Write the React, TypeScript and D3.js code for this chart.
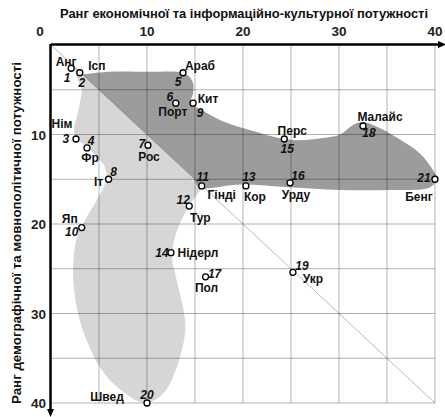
import React from 'react'
import * as d3 from 'd3'

// languages: number, short name, two ranks
const nums = [1, 2, 3, 4, 5, 6, 7, 8, 9, 10, 11, 12, 13, 14, 15, 16, 17, 18, 19, 20, 21]
const names = ['Анг', 'Ісп', 'Нім', 'Фр', 'Араб', 'Порт', 'Рос', 'Іт', 'Кит', 'Яп', 'Гінді',
  'Тур', 'Кор', 'Нідерл', 'Перс', 'Урду', 'Пол', 'Малайс', 'Укр', 'Швед', 'Бенг']
const econRank = [2.1, 3.0, 2.6, 3.75, 13.75, 13.0, 10.1, 6.0, 14.8, 3.2, 15.7,
  14.4, 20.3, 12.5, 24.3, 24.9, 16.1, 32.5, 25.2, 10.0, 40.0]
const demoRank = [2.6, 3.1, 10.5, 11.5, 3.1, 6.5, 11.2, 15.0, 6.5, 20.4, 15.75,
  18.0, 15.75, 23.2, 10.5, 15.4, 25.9, 9.05, 25.4, 40.0, 15.0]

const xTicks = [0, 10, 20, 30, 40]
const yTicks = [10, 20, 30, 40]
const gridSteps = [5, 10, 15, 20, 25, 30, 35, 40]

// outlines of the two shaded groups, in rank units
const darkZone: [number, number][] = [
  [3.3, 3.3], [6.1, 3.0], [10.3, 3.0], [13.1, 3.0], [14.2, 3.35], [14.8, 4.25], [14.8, 5.4],
  [14.6, 6.4], [16.25, 7.6], [18.3, 8.7], [20.7, 9.5], [24.9, 10.6], [28.3, 10.4], [30.1, 10.0],
  [31.5, 8.9], [32.5, 8.6], [34.3, 9.3], [36.4, 10.6], [38.4, 12.1], [39.8, 14.0], [40.2, 14.9],
  [39.5, 15.9], [35.3, 16.2], [30.1, 16.2], [24.9, 15.9], [19.7, 15.6], [15.4, 15.9], [14.9, 14.9],
]
const lightZone: [number, number][] = [
  [2.3, 2.3], [2.8, 3.9], [3.2, 5.0], [3.0, 6.5], [2.7, 8.0], [2.4, 9.3], [2.6, 10.4], [3.75, 11.4],
  [4.8, 12.5], [5.5, 13.4], [5.8, 14.5], [5.6, 15.6], [4.8, 17.3], [3.75, 19.2], [2.7, 21.5],
  [2.3, 24.8], [2.5, 28.2], [3.3, 31.8], [5.1, 36.0], [7.2, 38.5], [9.8, 40.0], [11.7, 38.9],
  [13.1, 36.0], [14.0, 31.8], [13.75, 29.3], [13.1, 26.3], [12.6, 23.7], [12.9, 21.5], [13.75, 19.2],
  [14.8, 17.3], [15.6, 16.0], [15.2, 15.2],
]

// label placement around each marker (px)
const nameOff = [[-5, -7], [17, -7], [-14, -15], [3, 10], [17, -7], [-3, 9], [1, 11], [-10, 2], [15, -4],
  [-12, -9], [20, 9], [11, 12], [9, 11], [27, 0], [8, -8], [6, 12], [1, 11], [17, -9], [20, 6], [-40, -6], [-16, 17]]
const numOff = [[-4, 9], [2, 10], [-10, 0], [4, -7], [-5, 9], [-6, -6], [-6, -2], [5, -8], [7, 10],
  [-10, 4], [1, -9], [-6, -6], [3, -9], [-9, 0], [3, 10], [8, -7], [9, -3], [6, 7], [9, -7], [0, -8], [-11, -2]]

const font = "'Liberation Sans', Arial, sans-serif"

export default function App() {
  const W = 445, H = 417
  const x = d3.scaleLinear([0, 40], [51, 435])
  const y = d3.scaleLinear([0, 40], [45, 403])

  const outline = d3.line<[number, number]>()
    .x(d => x(d[0]))
    .y(d => y(d[1]))
    .curve(d3.curveCatmullRom.alpha(0.5))

  return (
    <div style={{ position: 'absolute', left: 0, top: 0 }}>
      <svg width={W} height={H} style={{ display: 'block', background: '#fff' }} fontFamily={font}>
        <path d={outline(lightZone) + 'Z'} fill="#d6d6d6" />
        <path d={outline(darkZone) + 'Z'} fill="#9c9c9c" />

        {gridSteps.map(s => (
          <g key={s}>
            <line x1={x(s)} x2={x(s)} y1={y(0)} y2={y(40)} stroke="#000" strokeOpacity={0.3} />
            <line x1={x(0)} x2={x(40)} y1={y(s)} y2={y(s)} stroke="#000" strokeOpacity={0.3} />
          </g>
        ))}
        <line x1={x(0)} y1={y(0)} x2={x(40)} y2={y(40)} stroke="#000" strokeOpacity={0.28} />

        {/* axes */}
        <line x1={x(0)} x2={440} y1={44.5} y2={44.5} stroke="#000" strokeWidth={2.5} />
        <path d="M438,41 L446,44.5 L438,48 Z" fill="#000" />
        <line x1={50.5} x2={50.5} y1={44} y2={411} stroke="#000" strokeWidth={2.5} />
        <path d="M47,409 L50.5,417 L54,409 Z" fill="#000" />

        {xTicks.map(t => (
          <text key={t} x={t === 0 ? x(0) - 11 : x(t)} y={36} textAnchor="middle"
            fontSize={13.5} fontWeight="bold" fill="#222">{t}</text>
        ))}
        {yTicks.map(t => (
          <text key={t} x={46} y={y(t) + 5} textAnchor="end"
            fontSize={13.5} fontWeight="bold" fill="#222">{t}</text>
        ))}

        <text x={244} y={18} textAnchor="middle" fontSize={12} fontWeight="bold" fill="#111"
          textLength={368} lengthAdjust="spacingAndGlyphs">
          Ранг економічної та інформаційно-культурної потужності
        </text>
        <text transform="translate(21,233) rotate(-90)" textAnchor="middle" fontSize={12} fontWeight="bold"
          fill="#111" textLength={342} lengthAdjust="spacingAndGlyphs">
          Ранг демографічної та мовнополітичної потужності
        </text>

        {nums.map((n, i) => {
          const cx = x(econRank[i]), cy = y(demoRank[i])
          return (
            <g key={n}>
              <circle cx={cx} cy={cy} r={3} fill="#fff" stroke="#000" strokeWidth={1.3} />
              <text x={cx + nameOff[i][0]} y={cy + nameOff[i][1] + 4.3} textAnchor="middle"
                fontSize={12} fontWeight="bold" fill="#111">{names[i]}</text>
              <text x={cx + numOff[i][0]} y={cy + numOff[i][1] + 4.3} textAnchor="middle"
                fontSize={12} fontWeight="bold" fontStyle="italic" fill="#111">{n}</text>
            </g>
          )
        })}
      </svg>
    </div>
  )
}
